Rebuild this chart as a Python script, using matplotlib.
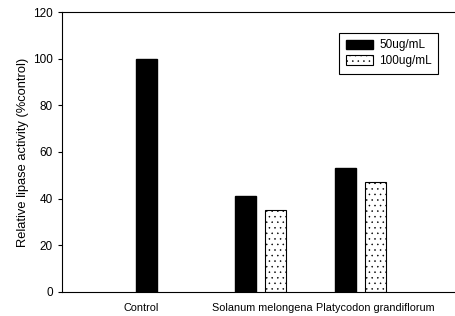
import matplotlib.pyplot as plt

plt.rcParams['font.family'] = ['Liberation Sans', 'DejaVu Sans']
plt.rcParams['hatch.linewidth'] = 0.35
plt.rcParams['hatch.color'] = '#999999'

categories = ["Control", "Solanum melongena", "Platycodon grandiflorum"]
series_names = ["50ug/mL", "100ug/mL"]
control_value = 100
low_dose = [41, 53]     # 50ug/mL for the two extracts
high_dose = [35, 47]    # 100ug/mL for the two extracts

# layout (axis units)
group_x = [146.5, 260, 360]
label_x = [141.5, 262, 375]
offset = 15
width = 21

fig = plt.figure(figsize=(4.56, 3.16), dpi=100)
ax = fig.add_axes([0.136, 0.076, 0.87, 0.886])

ax.bar(group_x[0], control_value, width=width, color="black", edgecolor="black")
ext_x = group_x[1:]
b1 = ax.bar([x - offset for x in ext_x], low_dose, width=width,
            color="black", edgecolor="black", label=series_names[0])
b2 = ax.bar([x + offset for x in ext_x], high_dose, width=width,
            color="white", edgecolor="black", linewidth=0.8, hatch="...",
            label=series_names[1])

ax.set_xlim(62, 458)
ax.set_ylim(0, 120)
ax.set_yticks(range(0, 121, 20))
ax.set_xticks(label_x)
ax.set_xticklabels(categories, fontsize=7.8)
ax.tick_params(axis="x", length=0, pad=8)
ax.tick_params(axis="y", labelsize=8.5, length=3, width=0.8, direction="out")
ax.spines["right"].set_visible(False)
for s in ["left", "bottom", "top"]:
    ax.spines[s].set_linewidth(0.8)

ax.set_ylabel("Relative lipase activity (%control)", fontsize=9.3, labelpad=3)

leg = ax.legend(loc="upper right", bbox_to_anchor=(0.948, 0.925), fontsize=8.5,
                fancybox=False, edgecolor="black", framealpha=1,
                handlelength=2.3, handleheight=0.9, borderpad=0.55,
                labelspacing=0.3, handletextpad=0.5, borderaxespad=0)
leg.get_frame().set_linewidth(0.8)

fig.savefig("out.png", dpi=100)
